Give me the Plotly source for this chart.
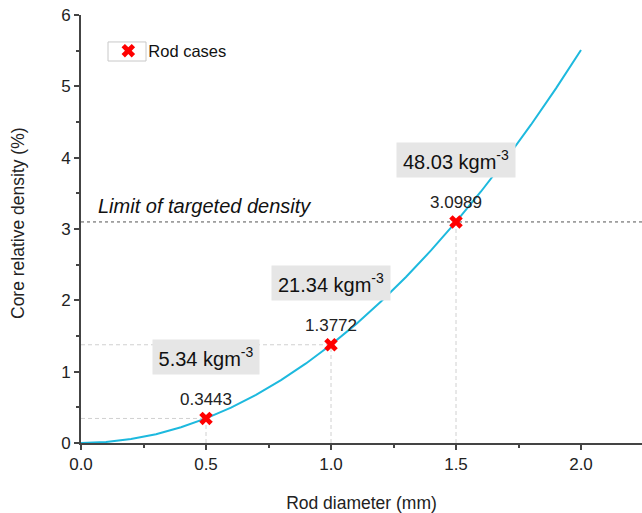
import plotly.graph_objects as go

# Curve
diam = [0.0, 0.1, 0.2, 0.3, 0.4, 0.5, 0.6, 0.7, 0.8, 0.9, 1.0,
        1.1, 1.2, 1.3, 1.4, 1.5, 1.6, 1.7, 1.8, 1.9, 2.0]
density = [0.0, 0.0138, 0.0551, 0.1239, 0.2204, 0.3443, 0.4958, 0.6748, 0.8814, 1.1155, 1.3772,
           1.6664, 1.9832, 2.3275, 2.6993, 3.0989, 3.5257, 3.9802, 4.4622, 4.9718, 5.5088]

# Rod cases
case_d = [0.5, 1.0, 1.5]
case_val = [0.3443, 1.3772, 3.0989]
case_labels = ["0.3443", "1.3772", "3.0989"]
mass_labels = ["5.34 kgm<sup>-3</sup>", "21.34 kgm<sup>-3</sup>", "48.03 kgm<sup>-3</sup>"]
mass_label_y = [1.206, 2.243, 3.967]
mass_box_w = [100, 112, 112]

limit_val = 3.0989
x_range = [0, 2.244]
y_range = [0, 6]

FONT = "Liberation Sans, Arial, sans-serif"
AXC = "#444444"

fig = go.Figure()

fig.add_trace(go.Scatter(x=diam, y=density, mode="lines",
                         line=dict(color="#1DB9DE", width=2),
                         showlegend=False, hoverinfo="skip"))

fig.add_trace(go.Scatter(x=case_d, y=case_val, mode="markers", name="Rod cases",
                         marker=dict(symbol="x", size=12, color="#FF0000",
                                     line=dict(width=0))))

shapes = []
# guide lines
for d, v in zip(case_d, case_val):
    shapes.append(dict(type="line", x0=d, x1=d, y0=0, y1=v, xref="x", yref="y",
                       line=dict(color="#D0D0D0", width=1, dash="4px,3px"), layer="below"))
for d, v in zip(case_d[:2], case_val[:2]):
    shapes.append(dict(type="line", x0=0, x1=d, y0=v, y1=v, xref="x", yref="y",
                       line=dict(color="#D0D0D0", width=1, dash="4px,3px"), layer="below"))
# limit line
shapes.append(dict(type="line", x0=0, x1=x_range[1], y0=limit_val, y1=limit_val,
                   xref="x", yref="y", line=dict(color="#555555", width=1, dash="dot"),
                   layer="below"))
# legend symbol box
shapes.append(dict(type="rect", x0=0.108, x1=0.26, y0=5.355, y1=5.622, xref="x", yref="y",
                   line=dict(color="#C8C8C8", width=1), layer="below"))

annotations = []
for d, v, t in zip(case_d, case_val, case_labels):
    annotations.append(dict(x=d, y=v, xref="x", yref="y", text=t, showarrow=False,
                            yshift=19, font=dict(family=FONT, size=17, color="#222222")))
for d, y, t, w in zip(case_d, mass_label_y, mass_labels, mass_box_w):
    annotations.append(dict(x=d, y=y, xref="x", yref="y", text=t, showarrow=False,
                            bgcolor="#E6E6E6", width=w, height=28, borderpad=3,
                            font=dict(family=FONT, size=20, color="#111111")))
annotations.append(dict(x=0.06, y=limit_val, xref="x", yref="y", xanchor="left",
                        yanchor="bottom", yshift=3, showarrow=False,
                        text="<i>Limit of targeted density</i>",
                        font=dict(family=FONT, size=20, color="#111111")))
# y axis title
annotations.append(dict(x=-0.1123, y=0.514, xref="paper", yref="paper", textangle=-90,
                        xanchor="center", yanchor="middle",
                        showarrow=False, text="Core relative density (%)",
                        font=dict(family=FONT, size=17.5, color="#222222")))

fig.update_layout(
    width=642, height=513,
    margin=dict(l=81, r=0, t=15, b=70),
    paper_bgcolor="white", plot_bgcolor="white",
    font=dict(family=FONT, size=17, color="#222222"),
    shapes=shapes, annotations=annotations,
    showlegend=True,
    legend=dict(x=0.0487, y=0.916, xanchor="left", yanchor="middle",
                bgcolor="rgba(0,0,0,0)", font=dict(family=FONT, size=16.5, color="#111111")),
    xaxis=dict(range=x_range, dtick=0.5, tickformat=".1f", showgrid=False, zeroline=False,
               showline=True, linecolor=AXC, linewidth=2, ticks="outside", ticklen=5,
               tickwidth=1.5, tickcolor=AXC, tickfont=dict(size=17),
               minor=dict(dtick=0.25, ticks="outside", ticklen=3, tickcolor=AXC, showgrid=False),
               title=dict(text="Rod diameter (mm)", font=dict(size=17.5), standoff=23)),
    yaxis=dict(range=y_range, dtick=1, showgrid=False, zeroline=False,
               showline=True, linecolor=AXC, linewidth=2, ticks="outside", ticklen=5,
               tickwidth=1.5, tickcolor=AXC, tickfont=dict(size=17),
               minor=dict(dtick=0.5, ticks="outside", ticklen=3, tickcolor=AXC, showgrid=False)),
    xaxis2=dict(overlaying="x", matches="x", side="top", anchor="y", range=x_range, dtick=0.5,
                showticklabels=False, showgrid=False, zeroline=False, showline=True,
                linecolor=AXC, linewidth=2, ticks="inside", ticklen=5, tickwidth=1.5,
                tickcolor=AXC,
                minor=dict(dtick=0.25, ticks="inside", ticklen=3, tickcolor=AXC, showgrid=False)),
    yaxis2=dict(overlaying="y", matches="y", side="right", anchor="x", range=y_range, dtick=1,
                showticklabels=False, showgrid=False, zeroline=False, showline=False,
                ticks="inside", ticklen=5, tickwidth=1.5, tickcolor=AXC,
                minor=dict(dtick=0.5, ticks="inside", ticklen=2, tickcolor=AXC, showgrid=False)),
)

fig.write_html("out.html")
